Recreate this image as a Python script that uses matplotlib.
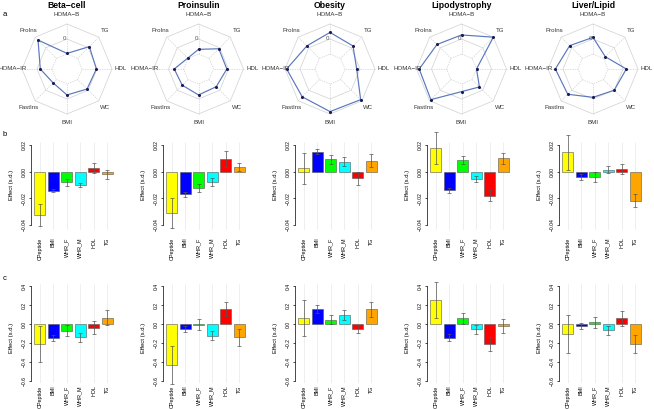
import numpy as np
import matplotlib
matplotlib.use("Agg")
import matplotlib.pyplot as plt

plt.rcParams['font.family'] = ['Liberation Sans', 'DejaVu Sans']

# radar chart (panel a): scaled values, -1 = inner ring, 0 = middle ring, 1 = outer ring
radar_labels = ["HOMA\u2212B", "TG", "HDL", "WC", "BMI", "FastIns", "HOMA\u2212IR", "ProIns"]
titles = ["Beta\u2212cell", "Proinsulin", "Obesity", "Lipodystrophy", "Liver/Lipid"]
radar_beta = [-0.96, 0.11, -0.04, -0.11, -0.27, -0.69, -0.22, 0.73]
radar_proins = [-0.69, -0.09, -0.11, -0.33, -0.27, -0.47, -0.38, -0.98]
radar_obesity = [0.44, 0.17, -0.22, 0.89, 0.84, 0.62, 0.89, 0.18]
radar_lipo = [0.27, 1.0, -1.0, -0.31, -0.49, 0.89, 0.82, 0.31]
radar_liver = [0.11, -0.84, 0.22, 0.0, -0.11, 0.38, 0.51, 0.20]

# bar charts (panels b and c)
traits = ["CPeptide", "BMI", "WHR_F", "WHR_M", "HDL", "TG"]
bar_colors = ["#FFFF00", "#0000FF", "#00FF00", "#00FFFF", "#FF0000", "#FFA500"]

b_beta = [-0.0325, -0.0143, -0.008, -0.010, 0.0025, -0.002]
b_beta_err = [0.008, 0.0012, 0.0024, 0.0018, 0.0037, 0.0036]
b_proins = [-0.031, -0.017, -0.012, -0.008, 0.0095, 0.0035]
b_proins_err = [0.011, 0.002, 0.003, 0.003, 0.006, 0.003]
b_obesity = [0.0025, 0.015, 0.0093, 0.0075, -0.005, 0.0083]
b_obesity_err = [0.0115, 0.0017, 0.0034, 0.0033, 0.0047, 0.0047]
b_lipo = [0.018, -0.014, 0.0085, -0.0055, -0.018, 0.010]
b_lipo_err = [0.012, 0.002, 0.003, 0.002, 0.004, 0.004]
b_liver = [0.0145, -0.004, -0.004, 0.0015, 0.002, -0.0218]
b_liver_err = [0.013, 0.0025, 0.0035, 0.0028, 0.0037, 0.0047]

c_beta = [-0.21, -0.147, -0.067, -0.137, -0.035, 0.07]
c_beta_err = [0.19, 0.03, 0.06, 0.045, 0.07, 0.08]
c_proins = [-0.428, -0.053, -0.005, -0.12, 0.161, -0.137]
c_proins_err = [0.2, 0.03, 0.06, 0.05, 0.07, 0.09]
c_obesity = [0.07, 0.16, 0.05, 0.10, -0.05, 0.16]
c_obesity_err = [0.19, 0.04, 0.05, 0.05, 0.04, 0.08]
c_lipo = [0.256, -0.14, 0.063, -0.053, -0.207, -0.018]
c_lipo_err = [0.19, 0.035, 0.055, 0.045, 0.075, 0.075]
c_liver = [-0.105, -0.02, 0.02, -0.063, 0.063, -0.207]
c_liver_err = [0.2, 0.03, 0.06, 0.05, 0.08, 0.09]

b_ticks = [-0.04, -0.02, 0.0, 0.02]
c_ticks = [-0.6, -0.4, -0.2, 0.0, 0.2, 0.4]

W, H = 654, 409
fig = plt.figure(figsize=(W / 100, H / 100), dpi=100)


def add_px_axes(left, top, w, h):
    return fig.add_axes([left / W, 1 - (top + h) / H, w / W, h / H])


def radar(ax, vals):
    ang = np.deg2rad(90 - 45 * np.arange(8))
    ca, sa = np.cos(ang), np.sin(ang)
    for r, ls in [(1 / 3, (0, (2, 1.5))), (2 / 3, '-'), (1.0, '-')]:
        ax.plot(np.r_[r * ca, r * ca[0]], np.r_[r * sa, r * sa[0]],
                color='#d0d0d0', lw=0.5, ls=ls)
    for c, s in zip(ca, sa):
        ax.plot([c / 3, c], [s / 3, s], color='#d0d0d0', lw=0.5, ls=(0, (2, 1.5)))
    rv = (np.array(vals) + 2) / 3
    ax.plot(np.r_[rv * ca, rv[0] * ca[0]], np.r_[rv * sa, rv[0] * sa[0]],
            color='#5a78bd', lw=0.85)
    ax.scatter(rv * ca, rv * sa, s=1.5, color='#1b1b50', zorder=3)
    for lab, c, s in zip(radar_labels, ca, sa):
        ax.text(1.2 * c, 1.2 * s, lab, ha='center', va='center', fontsize=4.4,
                color='#333333')
    ax.text(-0.05, 2 / 3, "0", ha='center', va='center', fontsize=4.4, color='#555555')
    lim = 65 / 45
    ax.set_xlim(-lim, lim)
    ax.set_ylim(-lim, lim)
    ax.axis('off')


def bars(ax, vals, errs, ticks, fmt, ylim, pad):
    x = 0.7 + 1.2 * np.arange(len(traits))
    ax.vlines(x, ylim[0], ylim[1], color='#e8e8e8', lw=0.5, zorder=0)
    ax.bar(x, vals, width=1, color=bar_colors, edgecolor='#555555', linewidth=0.4, zorder=2)
    eb = ax.errorbar(x, vals, yerr=errs, fmt='none', ecolor='#555555', elinewidth=0.5,
                     capsize=1.2, capthick=0.5, zorder=3)
    for art in list(eb.lines[1]) + list(eb.lines[2]):
        art.set_clip_on(False)
    ax.set_xlim(-0.08, 7.48)
    ax.set_ylim(*ylim)
    for sp in ['top', 'right', 'bottom']:
        ax.spines[sp].set_visible(False)
    ax.spines['left'].set_bounds(ticks[0], ticks[-1])
    ax.spines['left'].set_linewidth(0.5)
    ax.set_xticks(x)
    ax.set_xticklabels(traits, rotation=90, fontsize=3.9)
    ax.tick_params(axis='x', length=0, pad=pad)
    ax.set_yticks(ticks)
    ax.set_yticklabels([(fmt % t).replace('-', '\u2212') for t in ticks],
                       rotation=90, va='center', fontsize=3.6)
    ax.tick_params(axis='y', length=1.6, width=0.5, pad=1.2)


radar_sets = [radar_beta, radar_proins, radar_obesity, radar_lipo, radar_liver]
b_sets = [(b_beta, b_beta_err), (b_proins, b_proins_err), (b_obesity, b_obesity_err),
          (b_lipo, b_lipo_err), (b_liver, b_liver_err)]
c_sets = [(c_beta, c_beta_err), (c_proins, c_proins_err), (c_obesity, c_obesity_err),
          (c_lipo, c_lipo_err), (c_liver, c_liver_err)]

b_ylim = (-0.044, 0.0224)
b_top = 145 - (b_ylim[1] - 0.02) * 1333.3
b_h = (b_ylim[1] - b_ylim[0]) * 1333.3
c_ylim = (-0.62, 0.42)
c_top = 286.3 - (c_ylim[1] - 0.4) * 95
c_h = (c_ylim[1] - c_ylim[0]) * 95

for i in range(5):
    cx, cy = 67 + 131.5 * i, 69
    ax = add_px_axes(cx - 65, cy - 65, 130, 130)
    radar(ax, radar_sets[i])
    fig.text(cx / W, 1 - 6 / H, titles[i], ha='center', va='center',
             fontsize=6.2, fontweight='bold')

    left = 31 + 132 * i
    axb = add_px_axes(left, b_top, 85, b_h)
    bars(axb, b_sets[i][0], b_sets[i][1], b_ticks, '%.2f', b_ylim, 5)
    fig.text((left - 19) / W, 1 - 185 / H, "Effect (s.d.)", rotation=90,
             ha='center', va='center', fontsize=4.2)

    axc = add_px_axes(left, c_top, 85, c_h)
    bars(axc, c_sets[i][0], c_sets[i][1], c_ticks, '%.1f', c_ylim, 1.5)
    fig.text((left - 19) / W, 1 - 338 / H, "Effect (s.d.)", rotation=90,
             ha='center', va='center', fontsize=4.2)

for lab, y in [("a", 14), ("b", 135), ("c", 278)]:
    fig.text(5 / W, 1 - y / H, lab, ha='center', va='center', fontsize=5.5)

fig.savefig("out.png", dpi=100)
